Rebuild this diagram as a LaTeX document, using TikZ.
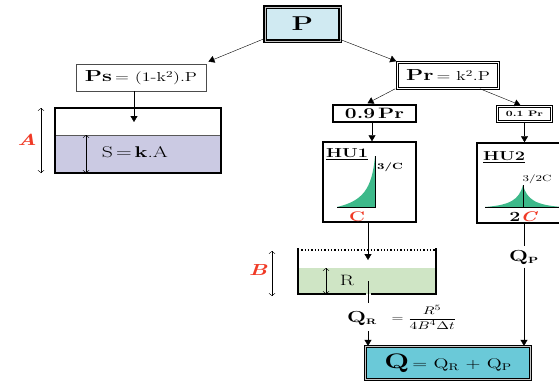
\documentclass[tikz,border=0pt]{standalone}
\usepackage{graphicx}
\usepackage{fontspec}
\setmainfont{Latin Modern Roman}[FakeStretch=1.4]
\usetikzlibrary{arrows.meta}
\definecolor{pblue}{HTML}{D0EAF2}
\definecolor{qcyan}{HTML}{6AC9D8}
\definecolor{slav}{HTML}{CBCAE3}
\definecolor{rgreen}{HTML}{CFE5C5}
\definecolor{hgreen}{HTML}{3DB98A}
\definecolor{lred}{HTML}{F03A26}
\newcommand{\fs}[1]{\fontsize{#1}{#1}\selectfont}
\begin{document}
\begin{tikzpicture}[x=1pt,y=-1pt,
	arr/.style={-{Triangle[length=6pt,width=7pt]}},
	dim/.style={{Straight Barb[length=2.5pt,width=6pt]}-{Straight Barb[length=2.5pt,width=6pt]}},
	heavybox/.style={draw,line width=1.3pt,double=gray!45,double distance=0.8pt,inner sep=0pt},
	twinbox/.style={draw,line width=0.6pt,double,double distance=1.2pt,inner sep=0pt},
	thickbox/.style={draw,line width=1.5pt,inner sep=0pt},
	redlab/.style={text=lred,font=\fs{16}\bfseries\itshape}]
	\useasboundingbox (0,0) rectangle (559,383);
	% top of the tree
	\node[heavybox,fill=pblue,minimum width=75,minimum height=34] (P) at (302.5,24) {\fs{20}\bfseries P};
	\node[draw,gray!60!black,line width=0.8pt,minimum width=130,minimum height=27,inner sep=0pt] (Ps) at (141,77.5)
		{\color{black}\fs{16}\bfseries Ps\hspace{3pt}\fs{13}\mdseries= (1-k\textsuperscript{2}).P};
	\node[twinbox,minimum width=101,minimum height=26] (Pr) at (448,75.5)
		{\fs{16}\bfseries Pr\hspace{3pt}\fs{13}\mdseries= k\textsuperscript{2}.P};
	\draw[arr] ([yshift=3pt]P.south west) -- ([xshift=2pt,yshift=2pt]Ps.north east);
	\draw[arr] ([yshift=2pt]P.south east) -- ([xshift=-1pt,yshift=1pt]Pr.north west);
	% surface store S
	\coordinate (sin) at (134,122);
	\fill[slav] (55,135) rectangle (221,173);
	\draw[gray!70!black,line width=0.8pt] (55,135) -- (221,135);
	\draw[line width=1.5pt] (55,108) rectangle (221,173);
	\draw[arr] (sin |- Ps.south) -- (sin);
	\node (S) at (135,152) {\fs{15.5}S\hspace{3pt}=\hspace{3pt}\textbf{k}.A};
	\draw[dim] (41,108) -- (41,173);
	\draw[dim] (86,135) -- (86,173);
	\node[redlab] (A) at (27,140) {A};
	% split of Pr
	\node[thickbox,minimum width=83,minimum height=17] (P9) at (374.5,113.5) {\fs{15}\bfseries 0.9\hspace{3pt}Pr};
	\node[twinbox,minimum width=54,minimum height=15] (P1) at (524.5,114) {\fs{8}\bfseries 0.1 Pr};
	\draw[arr] ([xshift=-2pt]Pr.south west) -- ([xshift=-7pt,yshift=1pt]P9.north);
	\draw[arr] ([xshift=32pt]Pr.south) -- ([xshift=-4pt,yshift=1pt]P1.north);
	% unit hydrographs
	\node[thickbox,minimum width=93,minimum height=80] (HU1) at (369.5,182) {};
	\node[thickbox,minimum width=85,minimum height=80] (HU2) at (519.5,183) {};
	\coordinate (h1in) at (372,0);
	\draw[arr] (P9.south -| h1in) -- (HU1.north -| h1in);
	\draw[arr] (P1.south) -- (P1.south |- HU2.north);
	\fill[hgreen] (337,207) .. controls (362,201) and (372,190) .. (375,156) -- (375,207) -- cycle;
	\draw[line width=0.8pt] (375,156) -- (375,207) -- (337,207);
	\node (h1) at (347,154) {\fs{13}\bfseries\underline{HU1}};
	\node (h1max) at (390,167) {\fs{9}\bfseries 3/C};
	\node[text=lred] (h1c) at (357,217) {\fs{14}\bfseries C};
	\fill[hgreen] (485,207) .. controls (510,205) and (519,200) .. (523,185)
		.. controls (527,200) and (536,205) .. (562,207) -- cycle;
	\draw[line width=0.7pt] (523,185) -- (523,207);
	\draw[line width=0.7pt] (485,207) -- (562,207);
	\node (h2) at (504,157) {\fs{13}\bfseries\underline{HU2}};
	\node (h2max) at (537,179) {\fs{9}3/2C};
	\node (h2c) at (523,217) {\fs{14}\bfseries 2\textcolor{lred}{\itshape C}};
	% routing store R
	\coordinate (rin) at (368,260);
	\fill[rgreen] (298,268) rectangle (436,294);
	\draw[line width=1.8pt] (298,248) -- (298,294) -- (366,294);
	\draw[line width=1.8pt] (371,294) -- (436,294) -- (436,248);
	\draw[line width=1.3pt,dotted] (298,250) -- (436,250);
	\draw[arr] (HU1.south -| rin) -- (rin);
	\node (R) at (347,280) {\fs{15}R};
	\draw[dim] (326,268) -- (326,294);
	\draw[dim] (272,251) -- (272,296);
	\node[redlab] (B) at (258,270) {B};
	% outflows
	\node[heavybox,fill=qcyan,minimum width=165,minimum height=33] (Q) at (448,363)
		{\fs{21}\bfseries Q\hspace{3pt}\fs{14}\mdseries= Q\textsubscript{R} + Q\textsubscript{P}};
	\coordinate (rout) at (368,281);
	\draw (rout) -- (368,303);
	\node (QR) at (362,318) {\fs{16}\bfseries Q\textsubscript{\fs{8}R}};
	\node (QRf) at (424,317) {\scalebox{1.4}[1]{\fs{11}$= \displaystyle\frac{R^5}{4B^4\Delta t}$}};
	\draw[arr] (368,331) -- (Q.north -| rout);
	\node (QP) at (524,257) {\fs{16}\bfseries Q\textsubscript{\fs{9}P}};
	\draw (HU2.south -| QP) -- (QP.north);
	\draw[arr] (QP.south) -- (Q.north -| QP);
\end{tikzpicture}
\end{document}
